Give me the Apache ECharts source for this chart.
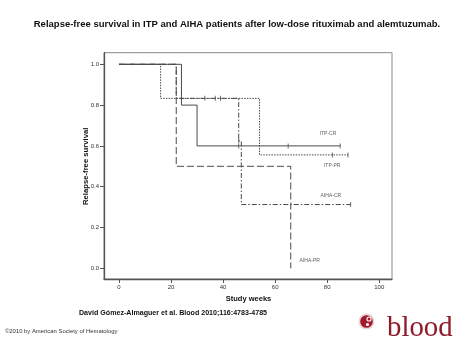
<!DOCTYPE html>
<html><head><meta charset="utf-8">
<script src="https://cdn.jsdelivr.net/npm/echarts@6/dist/echarts.min.js"></script>
<style>html,body{margin:0;padding:0;background:#fff}#c{width:474px;height:355px}</style>
</head><body><div id="c"></div>
<script>
// Kaplan-Meier step data: [week, survival after event]
const itpCR = [[0,1],[24,0.8],[30,0.6],[85,0.6]];
const itpPR = [[0,1],[16,0.833],[54,0.556],[88,0.556]];
const aihaCR = [[0,1],[22,0.833],[46,0.625],[47,0.3125],[89,0.3125]];
const aihaPR = [[0,1],[22,0.5],[66,0]];
// censored observations
const itpCRcens = [[46,0.6],[65,0.6],[85,0.6]];
const itpPRcens = [[33,0.833],[37,0.833],[39,0.833],[82,0.556],[88,0.556]];
const aihaCRcens = [[46,0.625],[89,0.3125]];
// curve labels
const curveLabels = [
  {name:'ITP-CR', pos:[80.3,0.658]},
  {name:'ITP-PR', pos:[81.9,0.505]},
  {name:'AIHA-CR', pos:[81.4,0.354]},
  {name:'AIHA-PR', pos:[73.3,0.036]}
];
const xTicks = [0,20,40,60,80,100];
const yTicks = [0,0.2,0.4,0.6,0.8,1.0];

const lineCol = '#4a4a4a';
const FONT = 'Liberation Sans, Arial, sans-serif';
function km(name, data, type, width){
  return {name, type:'line', step:'end', data, symbol:'none', silent:true,
    lineStyle:{color:lineCol, width:width||1, type}, z:3};
}
function cens(data){
  return {type:'scatter', data, symbol:'rect', symbolSize:[1,5],
    itemStyle:{color:lineCol}, silent:true, z:4};
}
const chart = echarts.init(document.getElementById('c'), null, {renderer:'canvas'});
chart.setOption({
  animation:false,
  backgroundColor:'#fff',
  grid:{left:104, right:82, top:52.7, bottom:76},
  xAxis:{type:'value', min:-5.757, max:104.9,
    axisLine:{show:true, onZero:false, lineStyle:{color:'#555', width:1.3}}, splitLine:{show:false},
    axisTick:{show:true, length:4, customValues:xTicks, lineStyle:{color:'#555'}},
    axisLabel:{fontSize:6, color:'#333', fontFamily:FONT, margin:5, customValues:xTicks,
      formatter:v=>String(v)}},
  yAxis:{type:'value', min:-0.0525, max:1.0569,
    axisLine:{show:true, onZero:false, lineStyle:{color:'#555', width:1.3}}, splitLine:{show:false},
    axisTick:{show:true, length:4, customValues:yTicks, lineStyle:{color:'#555'}},
    axisLabel:{fontSize:6, color:'#333', fontFamily:FONT, margin:5, customValues:yTicks,
      formatter:v=>v.toFixed(1)}},
  series:[
    km('AIHA-PR', aihaPR, [7,3]),
    km('AIHA-CR', aihaCR, [5,2,1.5,2]),
    km('ITP-PR', itpPR, [1.5,1.2]),
    km('ITP-CR', itpCR, 'solid'),
    cens(itpCRcens), cens(itpPRcens), cens(aihaCRcens),
    {type:'scatter', symbolSize:0, silent:true,
      data: curveLabels.map(l=>({value:l.pos, label:{formatter:l.name}})),
      label:{show:true, position:'inside', fontSize:5, color:'#333', fontFamily:FONT}}
  ],
  graphic:[
    {type:'rect', shape:{x:104, y:52.7, width:288, height:226.3}, silent:true, z:-1,
      style:{fill:null, stroke:'#888', lineWidth:1}},
    {type:'text', x:237, y:24, style:{text:'Relapse-free survival in ITP and AIHA patients after low-dose rituximab and alemtuzumab.',
      font:'bold 9.5px '+FONT, fill:'#111', textAlign:'center', textVerticalAlign:'middle'}},
    {type:'text', x:86, y:166.3, rotation:Math.PI/2, style:{text:'Relapse-free survival',
      font:'bold 7.7px '+FONT, fill:'#111', textAlign:'center', textVerticalAlign:'middle'}},
    {type:'text', x:248.5, y:299, style:{text:'Study weeks',
      font:'bold 7.5px '+FONT, fill:'#111', textAlign:'center', textVerticalAlign:'middle'}},
    {type:'text', x:79, y:313, style:{text:'David Gómez-Almaguer et al. Blood 2010;116:4783-4785',
      font:'bold 7.1px '+FONT, fill:'#111', textAlign:'left', textVerticalAlign:'middle'}},
    {type:'text', x:5, y:331, style:{text:'©2010 by American Society of Hematology',
      font:'5.9px '+FONT, fill:'#333', textAlign:'left', textVerticalAlign:'middle'}},
    {type:'circle', shape:{cx:366.5, cy:321.5, r:8}, style:{fill:'#e9d6d8'}},
    {type:'circle', shape:{cx:366.5, cy:321.5, r:6.3}, style:{fill:'#a3182b'}},
    {type:'circle', shape:{cx:369, cy:319, r:2.6}, style:{fill:'#fff'}},
    {type:'circle', shape:{cx:369, cy:319, r:1.5}, style:{fill:'#a3182b'}},
    {type:'circle', shape:{cx:367.5, cy:324.5, r:1.6}, style:{fill:'#fff'}},
    {type:'text', x:387, y:328.5, scaleX:0.96, style:{text:'blood',
      font:'30px "Liberation Serif", "Times New Roman", serif', fill:'#8e1a2a', textAlign:'left', textVerticalAlign:'middle'}}
  ]
});
</script></body></html>
